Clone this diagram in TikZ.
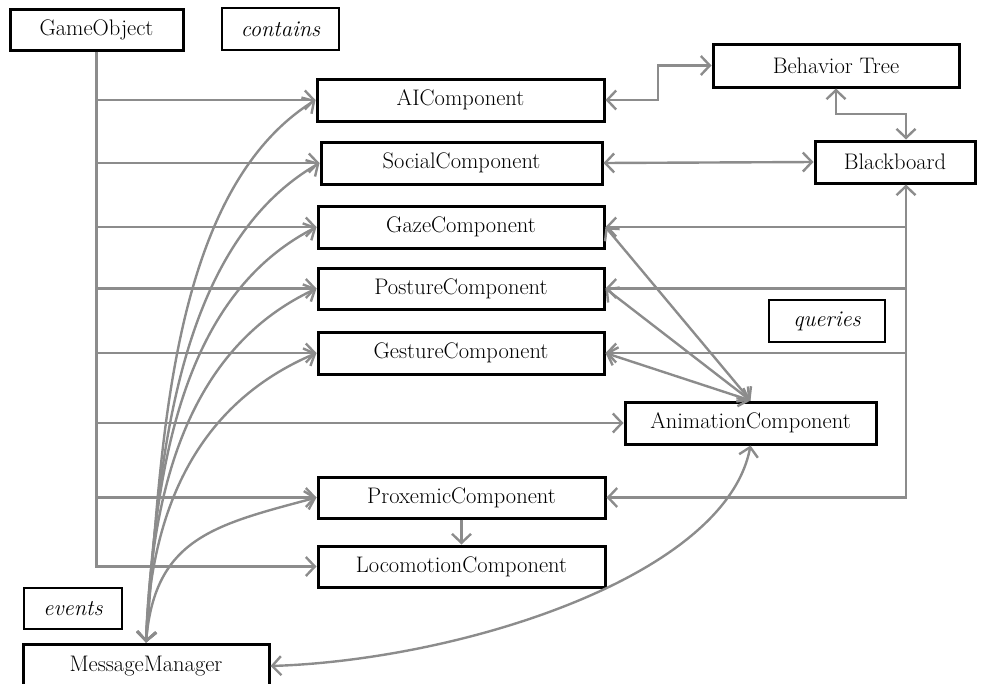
\documentclass[tikz,border=0pt]{standalone}
\usetikzlibrary{arrows.meta}
\definecolor{lg}{RGB}{140,140,140}
\begin{document}
\begin{tikzpicture}[x=1pt,y=1pt,
  box/.style={draw=black,line width=3pt,inner sep=0pt,font=\fontsize{22.5}{27}\selectfont},
  lbl/.style={draw=black,line width=1.6pt,inner sep=0pt,font=\fontsize{22.5}{27}\selectfont\itshape},
  conn/.style={draw=lg,line width=2.4pt},
  >={Straight Barb[length=9pt,width=19pt]}]
\useasboundingbox (0,0) rectangle (987,-683);
% nodes
\node[box,minimum width=173pt,minimum height=41pt] (go) at (96.5,-29.5) {GameObject};
\node[lbl,minimum width=117pt,minimum height=42pt] (contains) at (280.5,-29) {contains};
\node[box,minimum width=287pt,minimum height=42pt] (ai) at (460.5,-100) {AIComponent};
\node[box,minimum width=281pt,minimum height=42pt] (social) at (461.5,-163) {SocialComponent};
\node[box,minimum width=286pt,minimum height=42pt] (gaze) at (461,-227) {GazeComponent};
\node[box,minimum width=286pt,minimum height=41pt] (posture) at (461,-288.5) {PostureComponent};
\node[box,minimum width=286pt,minimum height=42pt] (gesture) at (461,-353) {GestureComponent};
\node[box,minimum width=251pt,minimum height=42pt] (anim) at (750.5,-423) {AnimationComponent};
\node[box,minimum width=287pt,minimum height=41pt] (prox) at (461.5,-497.5) {ProxemicComponent};
\node[box,minimum width=287pt,minimum height=41pt] (loco) at (461.5,-566.5) {LocomotionComponent};
\node[box,minimum width=246pt,minimum height=44pt] (mm) at (146,-666) {MessageManager};
\node[lbl,minimum width=98pt,minimum height=41pt] (events) at (73,-608.5) {events};
\node[box,minimum width=246pt,minimum height=43pt] (bt) at (836,-65.5) {Behavior Tree};
\node[box,minimum width=160pt,minimum height=42pt] (bb) at (895,-162) {Blackboard};
\node[lbl,minimum width=116pt,minimum height=42pt] (queries) at (827,-321) {queries};
\coordinate (qx) at (906,-114);
\coordinate (aj) at (658,-100);
% contains
\draw[conn,->] (go.south) |- (loco.west);
\foreach \n in {ai,social,gaze,posture,gesture,anim,prox}
  \draw[conn,->] (go.south |- \n.west) -- (\n.west);
% AI / behavior tree / blackboard
\draw[conn,<->] (ai.east) -- (aj) |- (bt.west);
\draw[conn,<->] (bt.south) |- (qx) -- (qx |- bb.north);
\draw[conn,<->] (social.east) -- (bb.west);
% queries
\draw[conn,<->] (qx |- bb.south) |- (prox.east);
\foreach \n in {gaze,posture,gesture}
  \draw[conn,->] (qx |- \n.east) -- (\n.east);
% animation
\foreach \n in {gaze,posture,gesture}
  \draw[conn,<->] (\n.east) -- (anim.north);
\draw[conn,->] (prox.south) -- (loco.north);
% events
\draw[conn,<->] (mm.north) to[out=85,in=212,looseness=0.8] (ai.west);
\draw[conn,<->] (mm.north) to[out=86,in=210,looseness=0.85] (social.west);
\draw[conn,<->] (mm.north) to[out=87,in=207,looseness=0.9] (gaze.west);
\draw[conn,<->] (mm.north) to[out=88,in=205,looseness=0.95] (posture.west);
\draw[conn,<->] (mm.north) to[out=88,in=203,looseness=1] (gesture.west);
\draw[conn,<->] (mm.north) to[out=85,in=195,looseness=1.2] (prox.west);
\draw[conn,<->] (mm.east) .. controls +(190,6) and +(-25,-131) .. (anim.south);
\end{tikzpicture}
\end{document}
